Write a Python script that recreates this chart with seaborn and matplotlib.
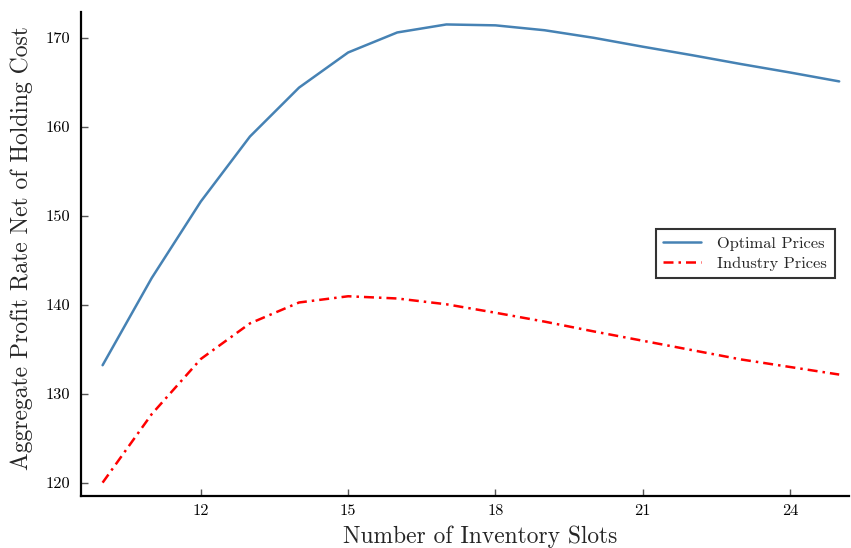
import matplotlib
matplotlib.use("Agg")
import matplotlib.pyplot as plt
import seaborn as sns
import pandas as pd

slots = [10, 11, 12, 13, 14, 15, 16, 17, 18, 19, 20, 21, 22, 23, 24, 25]
optimal = [133.2, 143.0, 151.6, 158.9, 164.4, 168.35, 170.6, 171.5, 171.4, 170.85,
           170.0, 169.0, 168.05, 167.05, 166.1, 165.1]
industry = [120.0, 127.7, 133.9, 137.9, 140.25, 140.95, 140.7, 140.05, 139.1, 138.1,
            137.0, 135.95, 134.9, 133.85, 133.0, 132.15]
series_names = ["Optimal Prices", "Industry Prices"]
xticks = [12, 15, 18, 21, 24]
yticks = [120, 130, 140, 150, 160, 170]

df = pd.DataFrame({
    "slots": slots * 2,
    "value": optimal + industry,
    "series": [series_names[0]] * len(slots) + [series_names[1]] * len(slots),
})

sns.set_theme(style="white")
plt.rcParams["font.family"] = ["cmr10", "DejaVu Serif"]
plt.rcParams["axes.formatter.use_mathtext"] = True
plt.rcParams["mathtext.fontset"] = "cm"

fig = plt.figure(figsize=(8.51, 5.48), dpi=100)
ax = fig.add_axes([81 / 851, 1 - 496 / 548, (849 - 81) / 851, (496 - 12) / 548])

sns.lineplot(data=df[df.series == series_names[0]], x="slots", y="value",
             color="#4682B4", lw=1.8, ax=ax, label=series_names[0])
sns.lineplot(data=df[df.series == series_names[1]], x="slots", y="value",
             color="#FF0000", lw=1.8, ax=ax, label=series_names[1],
             linestyle=(0, (4, 2, 1, 2)))

ax.set_xlim(9.56, 25.2)
ax.set_ylim(118.5, 172.9)
ax.set_xticks(xticks)
ax.set_yticks(yticks)
ax.set_xticklabels([str(t) for t in xticks])
ax.set_yticklabels([str(t) for t in yticks])

for s in ["top", "right"]:
    ax.spines[s].set_visible(False)
for s in ["left", "bottom"]:
    ax.spines[s].set_color("black")
    ax.spines[s].set_linewidth(1.6)

ax.tick_params(axis="both", direction="in", length=5, width=1.0, color="#555555",
               labelsize=11.8, labelcolor="black", left=True, bottom=True)
ax.tick_params(axis="y", pad=8)
ax.tick_params(axis="x", pad=6)

ax.set_xlabel("Number of Inventory Slots", fontsize=16.9)
ax.set_ylabel("Aggregate Profit Rate Net of Holding Cost", fontsize=17)
ax.xaxis.set_label_coords(0.5195, -0.060)
ax.yaxis.set_label_coords(-0.062, 0.512)

leg = ax.legend(loc="upper left", bbox_to_anchor=((656 - 81) / 768, 1 - (229 - 12) / 484),
                fontsize=11.8, frameon=True, fancybox=False, borderpad=0.45,
                handlelength=2.3, handletextpad=1.0, labelspacing=0.35, borderaxespad=0)
leg.get_frame().set_edgecolor("black")
leg.get_frame().set_linewidth(1.5)

fig.savefig("out.png", dpi=100)
